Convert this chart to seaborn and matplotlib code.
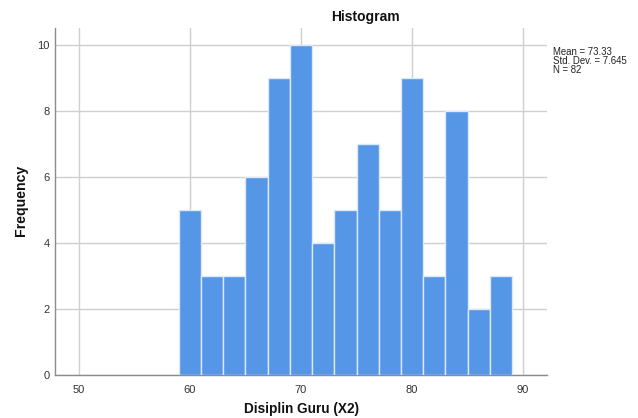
import matplotlib
matplotlib.use("Agg")
import matplotlib.pyplot as plt
import seaborn as sns
import numpy as np

# Data
bin_edges = [59, 61, 63, 65, 67, 69, 71, 73, 75, 77, 79, 81, 83, 85, 87, 89]
bin_centers = [60, 62, 64, 66, 68, 70, 72, 74, 76, 78, 80, 82, 84, 86, 88]
counts = [5, 3, 3, 6, 9, 10, 4, 5, 7, 5, 9, 3, 8, 2, 3]
x_ticks = [50, 60, 70, 80, 90]
y_ticks = [0, 2, 4, 6, 8, 10]
stats_lines = ["Mean = 73.33", "Std. Dev. = 7.645", "N = 82"]

sns.set_style("white")
plt.rcParams["font.family"] = ["Liberation Sans", "DejaVu Sans"]

fig = plt.figure(figsize=(6.38, 4.18), dpi=100)
ax = fig.add_axes([55/638, 1-375/418, (547-55)/638, (375-28)/418])

sns.histplot(x=bin_centers, weights=counts, bins=bin_edges, ax=ax,
             color="#5596E6", edgecolor="#DDE9F8", linewidth=1.0, alpha=1.0,
             zorder=3)

ax.set_xlim(47.85, 92.15)
ax.set_ylim(0, 10.5)
ax.set_xticks(x_ticks)
ax.set_yticks(y_ticks)
ax.grid(True, color="#CFCFCF", linewidth=1.0, zorder=0)
ax.set_axisbelow(True)
for s in ["top", "right"]:
    ax.spines[s].set_visible(False)
for s in ["left", "bottom"]:
    ax.spines[s].set_color("#8C8C8C")
    ax.spines[s].set_linewidth(1.0)
ax.tick_params(axis="x", length=0, labelsize=8, colors="#333333", pad=7)
ax.tick_params(axis="y", length=0, labelsize=8, colors="#333333", pad=4)
ax.set_xlabel("")
ax.set_ylabel("")

fig.text(365/638, 1-17/418, "Histogram", ha="center", va="center",
         fontsize=10, fontweight="bold", color="#111111")
fig.text(301/638, 1-409/418, "Disiplin Guru (X2)", ha="center", va="center",
         fontsize=9.8, fontweight="bold", color="#111111")
fig.text(21/638, 1-200/418, "Frequency", ha="center", va="center",
         rotation=90, fontsize=10.2, fontweight="bold", color="#111111")
fig.text(553/638, 1-47/418, "\n".join(stats_lines), ha="left", va="top",
         fontsize=6.9, color="#222222", linespacing=0.9)

fig.savefig("out.png", dpi=100)
